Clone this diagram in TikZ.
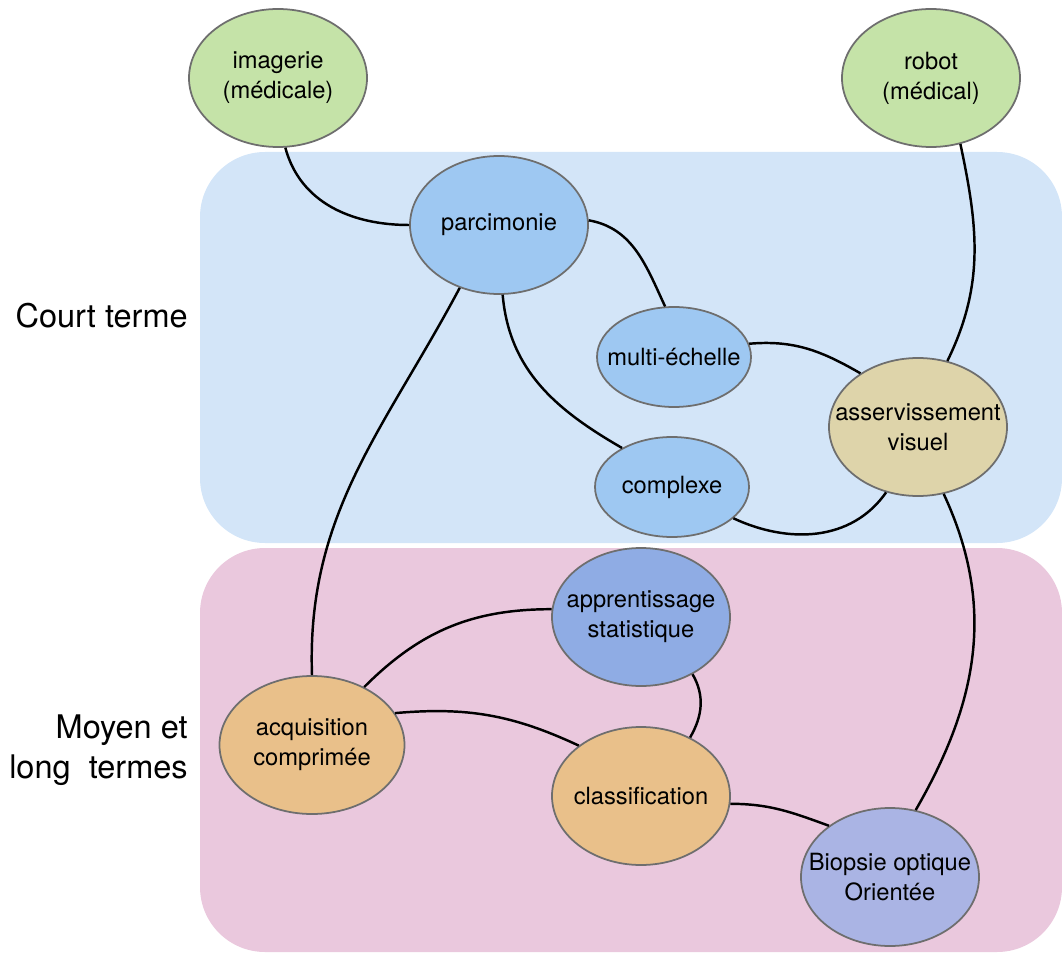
\documentclass[tikz,border=0pt]{standalone}
\usepackage{fontspec}
\setmainfont{TeX Gyre Heros}
\usepackage{xcolor}
\usepackage{tikz}
\usetikzlibrary{shapes.geometric}
\definecolor{shortbg}{RGB}{211,229,248}
\definecolor{longbg}{RGB}{234,200,221}
\definecolor{nodegreen}{RGB}{197,227,168}
\definecolor{nodeblue}{RGB}{158,200,242}
\definecolor{nodesand}{RGB}{222,212,170}
\definecolor{nodeindigo}{RGB}{143,172,228}
\definecolor{nodeorange}{RGB}{233,192,138}
\definecolor{nodelavender}{RGB}{170,180,228}
\definecolor{nodeedge}{RGB}{110,110,110}

\begin{document}
\begin{tikzpicture}[x=0.2mm, y=0.2mm,
    bulle/.style={ellipse, draw=nodeedge, line width=1pt, minimum width=35.6mm, minimum height=27.6mm,
        inner xsep=-5mm, align=center, font=\fontsize{13.5}{17}\selectfont},
    petite/.style={minimum width=30.8mm, minimum height=20mm},
    lien/.style={line width=1.4pt},
    terme/.style={anchor=east, inner sep=0pt, align=right, font=\fontsize{18.5}{23}\selectfont}]
    \useasboundingbox (0,0) rectangle (1062,-954);

    % Backgrounds
    \fill[shortbg, rounded corners=13mm] (200,-152) rectangle (1062,-543);
    \fill[longbg, rounded corners=13mm] (200,-548) rectangle (1062,-952);

    % Labels
    \node[terme] (court) at (188,-316) {Court terme};
    \node[terme] (moyen) at (188,-750) {Moyen et\\long~ termes};

    % Topics
    \node[bulle, fill=nodegreen] (imagerie) at (278,-78) {imagerie\\(médicale)};
    \node[bulle, fill=nodegreen] (robot) at (931,-78) {robot\\(médical)};
    \node[bulle, fill=nodeblue] (parcimonie) at (499,-225) {parcimonie};
    \node[bulle, petite, fill=nodeblue] (multi) at (674,-357) {multi-échelle};
    \node[bulle, petite, fill=nodeblue] (complexe) at (672,-487) {complexe};
    \node[bulle, fill=nodesand] (asserv) at (918,-427) {asservissement\\visuel};
    \node[bulle, fill=nodeindigo] (apprentissage) at (641,-617) {apprentissage\\statistique};
    \node[bulle, fill=nodeorange, minimum width=37mm] (acquisition) at (312,-745) {acquisition\\comprimée};
    \node[bulle, fill=nodeorange] (classification) at (641,-796) {classification};
    \node[bulle, fill=nodelavender] (biopsie) at (890,-877) {Biopsie optique\\Orientée};

    % Links
    \draw[lien] (imagerie.-84) to[out=-75,in=180] (parcimonie.west);
    \draw[lien] (robot.-66) to[out=-78,in=64] (asserv.66);
    \draw[lien] (parcimonie.3) to[out=-10,in=115] (multi.100);
    \draw[lien] (parcimonie.-87) to[out=-85,in=150] (complexe.142);
    \draw[lien] (parcimonie.-122) to[out=-118,in=92] (acquisition.north);
    \draw[lien] (multi.10) to[out=5,in=150] (asserv.137);
    \draw[lien] (complexe.-27) to[out=-25,in=-125] (asserv.-116);
    \draw[lien] (asserv.-69) to[out=-65,in=60] (biopsie.69);
    \draw[lien] (apprentissage.175) to[out=180,in=45] (acquisition.48);
    \draw[lien] (apprentissage.-48) to[out=-60,in=60] (classification.50);
    \draw[lien] (acquisition.21) to[out=5,in=155] (classification.141);
    \draw[lien] (classification.-5) to[out=0,in=160] (biopsie.140);
\end{tikzpicture}
\end{document}
